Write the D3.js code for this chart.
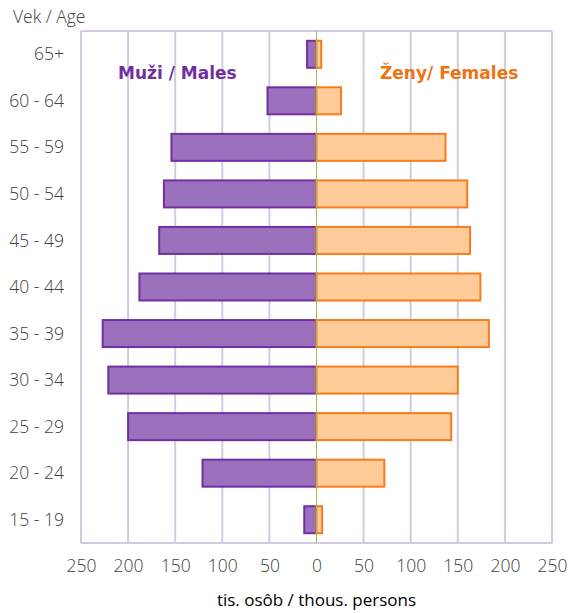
<!DOCTYPE html>
<html>
<head>
<meta charset="utf-8">
<script src="https://cdn.jsdelivr.net/npm/d3@7"></script>
<style>
  body { margin: 0; background: #fff; }
  svg text { font-family: "Open Sans", "DejaVu Sans", sans-serif; font-weight: 300; }
</style>
</head>
<body>
<svg id="chart" width="571" height="613"></svg>
<script>
// age groups, top to bottom
var ageGroups = ["65+", "60 - 64", "55 - 59", "50 - 54", "45 - 49", "40 - 44",
                 "35 - 39", "30 - 34", "25 - 29", "20 - 24", "15 - 19"];
// thousands of persons
var males   = [10, 52, 154, 162, 167, 188, 227, 221, 200, 121, 13];
var females = [5, 26, 137, 160, 163, 174, 183, 150, 143, 72, 6];
var tickValues = [-250, -200, -150, -100, -50, 0, 50, 100, 150, 200, 250];

var svg = d3.select("#chart");
var plotLeft = 81, plotRight = 552, plotTop = 31, plotBottom = 543;
var labelSize = 17.5;

var x = d3.scaleLinear().domain([-250, 250]).range([plotLeft, plotRight]);
var y = d3.scaleBand().domain(ageGroups).range([plotTop, plotBottom])
    .paddingInner(0.42).paddingOuter(0.21);

var gridColor = "#d3c9e2";

// vertical gridlines
svg.append("g").selectAll("line")
    .data(tickValues.filter(function (d) { return d !== 0; }))
    .enter().append("line")
    .attr("x1", function (d) { return x(d); })
    .attr("x2", function (d) { return x(d); })
    .attr("y1", plotTop)
    .attr("y2", plotBottom)
    .attr("stroke", gridColor)
    .attr("stroke-width", 2);

// top and bottom border
svg.append("line").attr("x1", plotLeft).attr("x2", plotRight).attr("y1", plotTop).attr("y2", plotTop)
    .attr("stroke", gridColor).attr("stroke-width", 2);
svg.append("line").attr("x1", plotLeft).attr("x2", plotRight).attr("y1", plotBottom).attr("y2", plotBottom)
    .attr("stroke", gridColor).attr("stroke-width", 2);

// male bars
svg.append("g").selectAll("rect")
    .data(males)
    .enter().append("rect")
    .attr("x", function (d) { return x(-d); })
    .attr("y", function (d, i) { return y(ageGroups[i]); })
    .attr("width", function (d) { return x(0) - x(-d); })
    .attr("height", y.bandwidth())
    .attr("fill", "#9b71bd")
    .attr("stroke", "#7030a0")
    .attr("stroke-width", 2);

// female bars
svg.append("g").selectAll("rect")
    .data(females)
    .enter().append("rect")
    .attr("x", x(0))
    .attr("y", function (d, i) { return y(ageGroups[i]); })
    .attr("width", function (d) { return x(d) - x(0); })
    .attr("height", y.bandwidth())
    .attr("fill", "#ffcc99")
    .attr("stroke", "#f97c1c")
    .attr("stroke-width", 2);

// zero line
svg.append("line")
    .attr("x1", x(0)).attr("x2", x(0))
    .attr("y1", plotTop).attr("y2", plotBottom)
    .attr("stroke", "#9bbb59")
    .attr("stroke-width", 1);

// category labels
svg.append("g").selectAll("text")
    .data(ageGroups)
    .enter().append("text")
    .attr("x", 64)
    .attr("y", function (d) { return y(d) + y.bandwidth() / 2; })
    .attr("dy", "0.35em")
    .attr("text-anchor", "end")
    .attr("font-size", labelSize)
    .attr("fill", "#404040")
    .text(function (d) { return d; });

// bottom axis
var xAxis = d3.axisBottom(x)
    .tickValues(tickValues)
    .tickSize(0)
    .tickPadding(0)
    .tickFormat(function (d) { return Math.abs(d); });

var axisG = svg.append("g")
    .attr("transform", "translate(0,560)")
    .call(xAxis);
axisG.select(".domain").remove();
axisG.selectAll("text")
    .attr("font-size", labelSize)
    .attr("fill", "#404040")
    .style("font-family", "'Open Sans', 'DejaVu Sans', sans-serif")
    .style("font-weight", 300);

// titles
svg.append("text")
    .attr("x", 13).attr("y", 23)
    .attr("font-size", labelSize)
    .attr("fill", "#404040")
    .text("Vek / Age");

svg.append("text")
    .attr("x", x(0)).attr("y", 606)
    .attr("text-anchor", "middle")
    .attr("font-size", 17)
    .attr("fill", "#000")
    .style("font-weight", 400)
    .text("tis. osôb / thous. persons");

svg.append("text")
    .attr("x", 118).attr("y", 79)
    .attr("font-size", 17)
    .attr("fill", "#7030a0")
    .style("font-family", "'DejaVu Sans', sans-serif")
    .style("font-weight", "bold")
    .text("Muži / Males");

svg.append("text")
    .attr("x", 380).attr("y", 79)
    .attr("font-size", 17)
    .attr("fill", "#ed7413")
    .style("font-family", "'DejaVu Sans', sans-serif")
    .style("font-weight", "bold")
    .text("Ženy/ Females");
</script>
</body>
</html>
